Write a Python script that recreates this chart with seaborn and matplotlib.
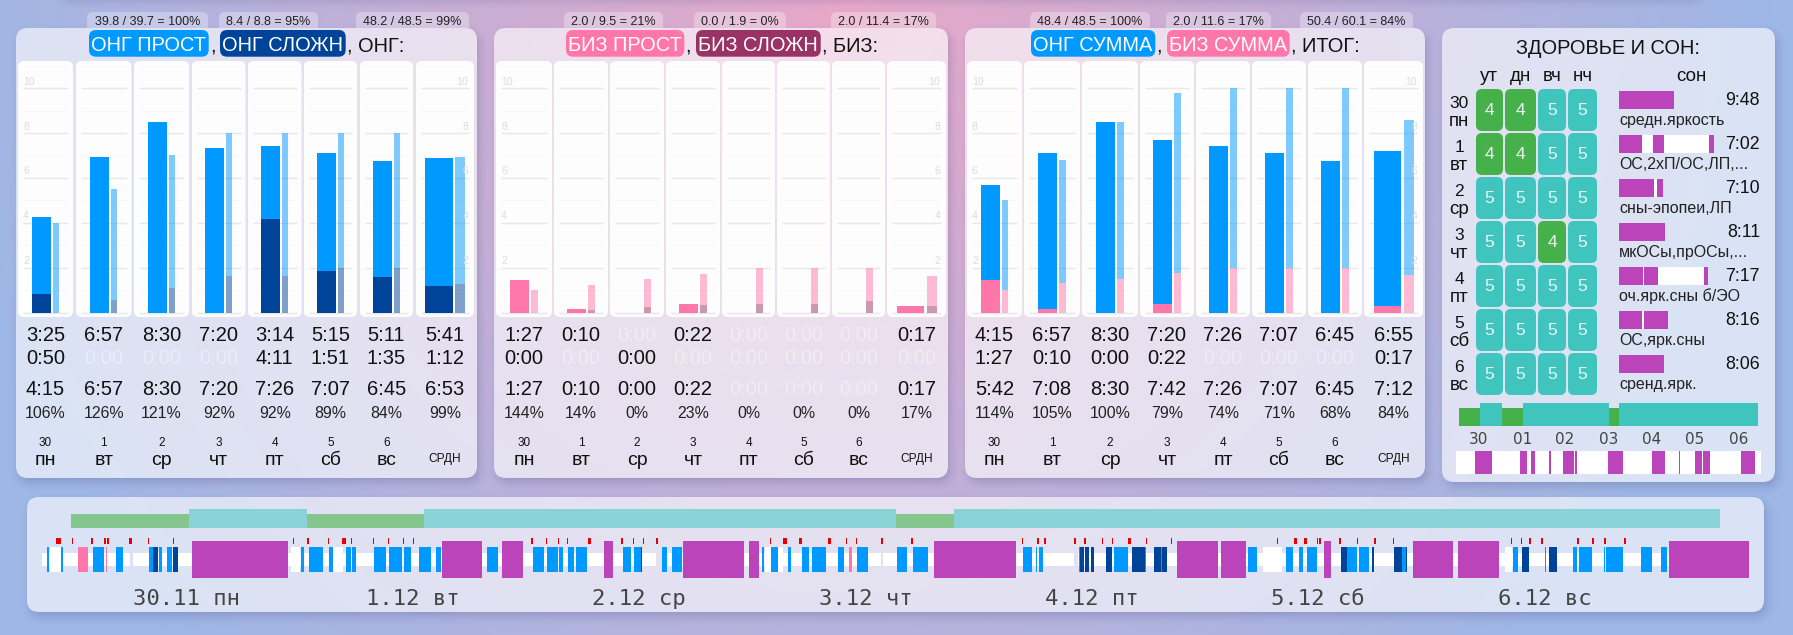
import numpy as np
import matplotlib
matplotlib.use('Agg')
import matplotlib.pyplot as plt
from matplotlib.patches import FancyBboxPatch, Rectangle
import seaborn as sns

## day labels
DAY_NUMS = ['30', '1', '2', '3', '4', '5', '6', '']
DAY_NAMES = ['пн', 'вт', 'ср', 'чт', 'пт', 'сб', 'вс', 'СРДН']

## first panel
ONG_SIMPLE = ['3:25', '6:57', '8:30', '7:20', '3:14', '5:15', '5:11', '5:41']
ONG_COMPLEX = ['0:50', '0:00', '0:00', '0:00', '4:11', '1:51', '1:35', '1:12']
ONG_TOTAL = ['4:15', '6:57', '8:30', '7:20', '7:26', '7:07', '6:45', '6:53']
ONG_PCT = ['106%', '126%', '121%', '92%', '92%', '89%', '84%', '99%']
ONG_PLAN_TOTAL = [3.99, 5.5, 7.02, 8.0, 8.0, 8.0, 8.0, 6.93]
ONG_PLAN_LOW = [0.0, 0.56, 1.1, 1.63, 1.63, 2.0, 2.0, 1.28]
ONG_PILLS = ['39.8 / 39.7 = 100%', '8.4 / 8.8 = 95%', '48.2 / 48.5 = 99%']

## second panel
BIZ_SIMPLE = ['1:27', '0:10', '0:00', '0:22', '0:00', '0:00', '0:00', '0:17']
BIZ_COMPLEX = ['0:00', '0:00', '0:00', '0:00', '0:00', '0:00', '0:00', '0:00']
BIZ_TOTAL = ['1:27', '0:10', '0:00', '0:22', '0:00', '0:00', '0:00', '0:17']
BIZ_PCT = ['144%', '14%', '0%', '23%', '0%', '0%', '0%', '17%']
BIZ_PLAN_TOTAL = [1.01, 1.23, 1.5, 1.72, 2.0, 2.0, 2.0, 1.63]
BIZ_PLAN_LOW = [0.0, 0.12, 0.25, 0.34, 0.39, 0.39, 0.52, 0.3]
BIZ_PILLS = ['2.0 / 9.5 = 21%', '0.0 / 1.9 = 0%', '2.0 / 11.4 = 17%']

## third panel
SUM_ONG = ['4:15', '6:57', '8:30', '7:20', '7:26', '7:07', '6:45', '6:55']
SUM_BIZ = ['1:27', '0:10', '0:00', '0:22', '0:00', '0:00', '0:00', '0:17']
SUM_TOTAL = ['5:42', '7:08', '8:30', '7:42', '7:26', '7:07', '6:45', '7:12']
SUM_PCT = ['114%', '105%', '100%', '79%', '74%', '71%', '68%', '84%']
SUM_PLAN_TOTAL = [5.01, 6.8, 8.49, 9.78, 10.0, 10.0, 10.0, 8.58]
SUM_PLAN_LOW = [1.01, 1.32, 1.5, 1.77, 2.0, 2.0, 2.0, 1.68]
SUM_PILLS = ['48.4 / 48.5 = 100%', '2.0 / 11.6 = 17%', '50.4 / 60.1 = 84%']

## health table
HEALTH_COLS = ['ут', 'дн', 'вч', 'нч']
HEALTH_SCORES = [[4, 4, 5, 5], [4, 4, 5, 5], [5, 5, 5, 5], [5, 5, 4, 5],
                 [5, 5, 5, 5], [5, 5, 5, 5], [5, 5, 5, 5]]
SLEEP_TIMES = ['9:48', '7:02', '7:10', '8:11', '7:17', '8:16', '8:06']
SLEEP_NOTES = ['средн.яркость', 'ОС,2хП/ОС,ЛП,...', 'сны-эпопеи,ЛП', 'мкОСы,прОСы,...',
               'оч.ярк.сны б/ЭО', 'ОС,ярк.сны', 'сренд.ярк.']
SLEEP_ROWS = [[(0, 9.8)],
              [(0, 4.09), (6.05, 8.01), (16.01, 16.9)],
              [(0, 6.23), (6.76, 7.83)],
              [(0, 8.19)],
              [(0, 4.27), (4.45, 6.94), (15.14, 15.85)],
              [(0, 4.09), (4.45, 8.72)],
              [(0, 8.01)]]
STRIP_DAYS = ['30', '01', '02', '03', '04', '05', '06']

## timeline, hours from 30.11 00:00
TIMELINE_DAYS = ['30.11 пн', '1.12 вт', '2.12 ср', '3.12 чт', '4.12 пт', '5.12 сб', '6.12 вс']
HEALTH_SPANS = [(-0.27, 12.28, 4), (12.28, 24.78, 5), (24.78, 37.19, 4),
                (37.19, 87.25, 5), (87.25, 93.38, 4), (93.38, 174.6, 5)]
SLEEP_SPANS = [(12.56, 22.74), (39.10, 43.32), (45.47, 47.70), (56.26, 57.24), (64.65, 71.10),
               (71.63, 72.72), (91.27, 99.95), (117.03, 121.39), (121.71, 124.37),
               (132.60, 133.38), (142.07, 146.35), (146.84, 151.21), (169.23, 177.72)]
ONG_SIMPLE_SPANS = [(-2.78, -2.58), (-1.32, -1.12), (2.09, 3.26), (4.52, 5.29), (8.01, 8.42),
                    (9.07, 9.39), (9.92, 10.45), (24.12, 24.49), (24.98, 26.48), (27.13, 27.53),
                    (28.95, 29.44), (29.56, 29.97), (31.87, 33.13), (33.46, 34.88), (35.08, 35.81),
                    (36.66, 37.92), (38.45, 38.98), (43.84, 45.06), (48.71, 49.24), (49.32, 49.93),
                    (50.22, 51.43), (51.51, 51.96), (52.45, 53.10), (53.26, 54.48), (58.27, 59.13),
                    (59.45, 60.18), (62.41, 62.94), (63.47, 64.52), (73.01, 73.25), (74.02, 74.71),
                    (75.77, 76.09), (77.27, 78.00), (78.32, 79.82), (81.08, 81.73), (83.11, 84.25),
                    (87.33, 88.39), (89.04, 90.66), (100.68, 101.66), (102.10, 102.22),
                    (102.39, 102.83), (106.65, 106.77), (110.34, 111.84), (113.59, 113.79),
                    (115.33, 115.45), (124.53, 125.51), (128.61, 129.34), (129.95, 130.40),
                    (130.81, 131.87), (135.05, 136.07), (136.32, 137.38), (140.84, 141.33),
                    (152.67, 153.20), (156.02, 156.18), (159.04, 159.44), (159.69, 161.03),
                    (162.26, 162.38), (162.50, 164.34), (166.26, 167.40), (168.38, 168.99)]
ONG_COMPLEX_SPANS = [(8.42, 8.99), (10.61, 11.10), (60.18, 60.30), (106.77, 107.13), (107.30, 107.70),
                     (107.90, 108.19), (109.49, 110.14), (112.25, 113.59), (114.60, 115.33),
                     (115.45, 115.98), (134.44, 135.05), (137.70, 137.87), (140.03, 140.84),
                     (141.33, 141.42), (153.61, 154.39), (156.51, 157.32)]
BIZ_SPANS = [(0.50, 1.56), (3.51, 3.56), (82.26, 82.58)]
MARK_SPANS = [(-1.81, -1.65), (-1.60, -1.32), (-0.14, -0.02), (1.89, 2.05), (3.26, 3.43), (3.55, 3.79),
              (5.90, 6.23), (7.93, 8.01), (10.57, 10.65), (23.27, 23.39), (24.77, 24.98), (27.00, 27.13),
              (28.46, 28.91), (29.44, 29.56), (31.79, 31.87), (33.38, 33.46), (34.92, 35.04),
              (36.01, 36.13), (48.51, 48.76), (50.14, 50.22), (51.39, 51.51), (52.33, 52.45),
              (54.56, 54.88), (58.07, 58.27), (59.33, 59.45), (60.38, 60.51), (61.76, 62.01),
              (73.82, 73.98), (75.24, 75.68), (76.94, 77.23), (80.03, 80.35), (81.93, 82.01),
              (82.99, 83.11), (85.63, 85.87), (88.83, 89.04), (100.60, 100.68), (102.18, 102.39),
              (102.91, 103.12), (106.12, 106.32), (107.17, 107.38), (109.08, 109.20), (110.14, 110.26),
              (111.84, 112.17), (113.75, 113.83), (116.38, 116.51), (126.12, 126.20), (127.63, 127.71),
              (129.42, 129.79), (130.48, 130.81), (131.87, 132.03), (132.07, 132.32), (134.20, 134.44),
              (136.11, 136.19), (137.91, 138.15), (139.95, 140.03), (152.43, 152.55), (153.49, 153.57),
              (154.39, 154.59), (155.61, 155.81), (159.44, 159.65), (161.03, 161.24), (162.34, 162.50),
              (164.46, 164.67)]
TRACK_SPANS = [(-3.35, 5.95), (6.30, 61.80), (62.40, 85.67), (85.90, 106.10), (106.57, 177.72)]
OPEN_SPANS = [(-2.50, -1.36), (23.07, 24.04), (27.53, 28.63), (73.33, 73.98), (74.71, 75.24),
              (126.16, 128.20), (151.86, 152.59)]

## colours
BLUE, NAVY, PINK, PLUM = '#0099FF', '#004499', '#FF77AA', '#993366'
GREEN, TEAL, PURPLE = '#46B04A', '#40C4BE', '#BB44BB'
SOFT_GREEN, SOFT_TEAL = '#85C68E', '#88D3D6'
FADED = (1, 1, 1, 0.38)
INK = '#111111'

W, H = 1793, 635

sns.set_theme(style='white')
plt.rcParams['font.family'] = ['Liberation Sans', 'DejaVu Sans']


def to_hours(stamp):
    h, m = stamp.split(':')
    return int(h) + int(m) / 60


def overlay_axes(x0, y0, x1, y1):
    ax = fig.add_axes([x0 / W, 1 - y1 / H, (x1 - x0) / W, (y1 - y0) / H])
    ax.patch.set_alpha(0)
    return ax


def draw_bar(ax, center, width, low, height, color, alpha=1.0):
    if height <= 0:
        return
    sns.barplot(x=[center], y=[height], bottom=low, orient='x', native_scale=True, width=width,
                color=color, saturation=1, alpha=alpha, errorbar=None, linewidth=0, ax=ax)


def draw_span(ax, span, top, bottom, color):
    start, end = span[0], span[1]
    draw_bar(ax, (start + end) / 2, end - start, top, bottom - top, color)


def box(x0, y0, x1, y1, r, color, alpha=1.0, zorder=2):
    patch = FancyBboxPatch((x0, y0), x1 - x0, y1 - y0, boxstyle=f'round,pad=0,rounding_size={r}',
                           facecolor=color, edgecolor='none', alpha=alpha, zorder=zorder)
    base.add_patch(patch)
    return patch


def label(x, y, text, size, color=INK, ha='center', family=None):
    kw = {'family': family} if family else {}
    base.text(x, y, text, fontsize=size, color=color, ha=ha, va='baseline', zorder=5, **kw)


def rect_sdf(xx, yy, x0, y0, x1, y1, r):
    qx = np.abs(xx - (x0 + x1) / 2) - (x1 - x0) / 2 + r
    qy = np.abs(yy - (y0 + y1) / 2) - (y1 - y0) / 2 + r
    return np.hypot(np.maximum(qx, 0), np.maximum(qy, 0)) + np.minimum(np.maximum(qx, qy), 0) - r


## page background with box shadows
PANEL_BOXES = [(16, 28, 477, 478), (494, 28, 948, 478), (965, 28, 1425, 478),
               (1442, 28, 1775, 482), (27, 497, 1764, 612)]
xx, yy = np.meshgrid(np.arange(W) + 0.5, np.arange(H) + 0.5)
blend = np.clip(1 - np.hypot((xx - 850) / 920, yy / 950), 0, 1)[..., None]
page = np.array([157, 183, 230]) * (1 - blend) + np.array([232, 168, 201]) * blend
for x0, y0, x1, y1 in PANEL_BOXES + [(57, -60, 1700, -4)]:
    shadow = np.clip(1 - (rect_sdf(xx, yy, x0 + 3, y0 + 5, x1 + 3, y1 + 5, 12) + 9) / 20, 0, 1) ** 2 * 0.38
    shadow[rect_sdf(xx, yy, x0, y0, x1, y1, 12) < 0] = 0
    page = page * (1 - shadow[..., None]) + np.array([70, 70, 130]) * shadow[..., None]

fig = plt.figure(figsize=(W / 100, H / 100), dpi=100)
base = fig.add_axes([0, 0, 1, 1])
base.imshow(page.astype(np.uint8), extent=(0, W, H, 0), aspect='auto', interpolation='nearest', zorder=0)
base.set_xlim(0, W)
base.set_ylim(H, 0)
base.set_axis_off()


def draw_panel(left, right, cells, thin, pills_x, pills, title_pills, tail, tail_x, row1, row2, total,
               pct, fade1, fade2, fade3, upper, lower, plan_total, plan_low):
    for (x0, x1), text in zip(pills_x, pills):
        pill = box(x0, 12, x1, 36, 6, 'white', 0.3, 1)
        pill.set_clip_path(Rectangle((x0, 0), x1 - x0, 28, transform=base.transData))
        label((x0 + x1) / 2, 25.3, text, 9, '#222222')
    box(left, 28, right, 478, 12, 'white', 0.62)

    for x0, x1, text, color in title_pills:
        box(x0, 30, x1, 56.7, 7, color, zorder=3)
        label((x0 + x1) / 2, 51, text, 14.4, 'white')
    label(title_pills[0][1] + 1, 51, ',', 14.4, ha='left')
    label(tail_x, 51, tail, 14.4, ha='left')

    ax = overlay_axes(left, 61, right, 317)
    y_min, y_max = -4.3 / 22.45, 251.7 / 22.45
    for i, (x0, x1) in enumerate(cells):
        box(x0, 61, x1, 317, 6, 'white', 0.97, 3)
        mid = (x0 + x1) / 2
        ax.hlines([1, 3, 5, 7, 9, 11], x0 + 5, x1 - 5, color='#F8F8F8', linewidth=0.8, zorder=0)
        ax.hlines([0, 2, 4, 6, 8, 10], x0 + 5, x1 - 5, color='#E8E8E8', linewidth=1.0, zorder=0)

        wide, narrow, gap = (27.5, 10, 2.5) if i == 7 else (19, thin, 2)
        x_main = mid - (wide + gap + narrow) / 2 + wide / 2
        x_plan = mid + (wide + gap + narrow) / 2 - narrow / 2
        low = to_hours(row2[i])
        draw_bar(ax, x_main, wide, low, to_hours(total[i]) - low, upper)
        draw_bar(ax, x_main, wide, 0, low, lower)
        draw_bar(ax, x_plan, narrow, plan_low[i], plan_total[i] - plan_low[i], upper, 0.5)
        draw_bar(ax, x_plan, narrow, 0, plan_low[i], lower, 0.5)

        label(mid, 341.3, row1[i], 14.5, FADED if i in fade1 else INK)
        label(mid, 364, row2[i], 14.5, FADED if i in fade2 else INK)
        label(mid, 395.3, total[i], 14.5, FADED if i in fade3 else INK)
        label(mid, 418.3, pct[i], 11.4, '#222222')
        if DAY_NUMS[i]:
            label(mid, 446, DAY_NUMS[i], 8.5)
            label(mid, 465, DAY_NAMES[i], 14)
        else:
            label(mid, 462.3, DAY_NAMES[i], 8.6)

    for hour in [2, 4, 6, 8, 10]:
        ax.text(cells[0][0] + 5, hour + 0.07, str(hour), fontsize=7.5, color='#DDDDDD', ha='left', va='bottom')
        ax.text(cells[7][1] - 6, hour + 0.07, str(hour), fontsize=7.5, color='#DDDDDD', ha='right', va='bottom')
    ax.set_xlim(left, right)
    ax.set_ylim(y_min, y_max)
    ax.set_axis_off()


draw_panel(16, 477,
           [(18, 73), (76, 131.5), (134, 189), (192, 245.5), (248, 301.5), (304, 357), (360, 413), (416, 474)],
           6, [(87, 208), (219, 318), (356, 469)], ONG_PILLS,
           [(89, 208.7, 'ОНГ ПРОСТ', BLUE), (220, 345.7, 'ОНГ СЛОЖН', NAVY)], ', ОНГ:', 347,
           ONG_SIMPLE, ONG_COMPLEX, ONG_TOTAL, ONG_PCT, [], [1, 2, 3], [],
           BLUE, NAVY, ONG_PLAN_TOTAL, ONG_PLAN_LOW)
draw_panel(494, 948,
           [(496, 552), (554, 608), (610, 664), (666, 720), (722, 775), (777, 830), (832, 885), (887, 946)],
           7, [(564, 663), (694, 785.7), (831, 936)], BIZ_PILLS,
           [(566, 684.3, 'БИЗ ПРОСТ', PINK), (696, 820.7, 'БИЗ СЛОЖН', PLUM)], ', БИЗ:', 822,
           BIZ_SIMPLE, BIZ_COMPLEX, BIZ_TOTAL, BIZ_PCT, [2, 4, 5, 6], [1, 3, 4, 5, 6, 7], [4, 5, 6],
           PINK, PLUM, BIZ_PLAN_TOTAL, BIZ_PLAN_LOW)
draw_panel(965, 1425,
           [(967, 1022), (1024, 1080), (1082, 1138), (1140, 1194), (1196, 1250), (1252, 1306), (1308, 1362), (1364, 1423)],
           6.5, [(1030, 1150), (1166, 1271), (1300, 1413)], SUM_PILLS,
           [(1031, 1155.3, 'ОНГ СУММА', BLUE), (1167, 1289.7, 'БИЗ СУММА', PINK)], ', ИТОГ:', 1291,
           SUM_ONG, SUM_BIZ, SUM_TOTAL, SUM_PCT, [], [4, 5, 6], [],
           BLUE, PINK, SUM_PLAN_TOTAL, SUM_PLAN_LOW)

## health and sleep panel
box(1442, 28, 1775, 482, 12, 'white', 0.62)
label(1607.7, 54, 'ЗДОРОВЬЕ И СОН:', 14.4)
col_edges = [(1476, 1503), (1505, 1536), (1538, 1566), (1568, 1597)]
for (x0, x1), name in zip(col_edges, HEALTH_COLS):
    label((x0 + x1) / 2, 81, name, 13.5)
label(1691.7, 81, 'сон', 13.5)

rows_ax = overlay_axes(1619, 85, 1770, 400)
px_per_hour = 5.62
for r, scores in enumerate(HEALTH_SCORES):
    top = 89 + 44 * r
    label(1459.3, top + 19.3, DAY_NUMS[r], 12.5)
    label(1459.3, top + 36.7, DAY_NAMES[r], 13.5)
    for (x0, x1), score in zip(col_edges, scores):
        box(x0, top, x1, top + 42, 6, GREEN if score == 4 else TEAL, zorder=3)
        label((x0 + x1) / 2, top + 26, str(score), 12.5, '#E9F6F2')
    draw_span(rows_ax, (0, SLEEP_ROWS[r][-1][1]), top + 2, top + 20, 'white')
    for span in SLEEP_ROWS[r]:
        draw_span(rows_ax, span, top + 2, top + 20, PURPLE)
    label(1760, top + 16, SLEEP_TIMES[r], 12.8, ha='right')
    label(1619, top + 36.3, SLEEP_NOTES[r], 11.5, '#222222', ha='left')
rows_ax.set_xlim(0, 151 / px_per_hour)
rows_ax.set_ylim(400, 85)
rows_ax.set_axis_off()

health_ax = overlay_axes(1459, 400, 1758, 430)
for span in HEALTH_SPANS:
    if span[2] == 4:
        draw_span(health_ax, span, 408, 426, GREEN)
    else:
        draw_span(health_ax, span, 403, 426, TEAL)
health_ax.set_xlim(HEALTH_SPANS[0][0], HEALTH_SPANS[-1][1])
health_ax.set_ylim(430, 400)
health_ax.set_axis_off()

for x, day in zip([1479, 1522.3, 1565, 1608.3, 1651.7, 1695, 1738.7], STRIP_DAYS):
    label(x, 443.7, day, 11, '#444444', family='DejaVu Sans')

strip_ax = overlay_axes(1456, 451, 1761, 474)
strip_start, strip_end = 1.35, 181.2
draw_span(strip_ax, (strip_start, strip_end), 0, 1, 'white')
for span in SLEEP_SPANS:
    draw_span(strip_ax, span, 0, 1, PURPLE)
strip_ax.set_xlim(strip_start, strip_end)
strip_ax.set_ylim(0, 1)
strip_ax.set_axis_off()

## timeline
box(27, 497, 1764, 612, 12, 'white', 0.62)
px_hour, px_zero = 9.43, 73.4
time_ax = overlay_axes(27, 497, 1764, 612)
for span in HEALTH_SPANS:
    if span[2] == 4:
        draw_span(time_ax, span, 514, 528, SOFT_GREEN)
    else:
        draw_span(time_ax, span, 509, 528, SOFT_TEAL)
for span in TRACK_SPANS:
    draw_span(time_ax, span, 553.3, 566, 'white')
for span in OPEN_SPANS:
    draw_span(time_ax, span, 547, 572, 'white')
for span in ONG_SIMPLE_SPANS:
    draw_span(time_ax, span, 547, 572, BLUE)
for span in ONG_COMPLEX_SPANS:
    draw_span(time_ax, span, 547, 572, NAVY)
for span in BIZ_SPANS:
    draw_span(time_ax, span, 547, 572, PINK)
for span in SLEEP_SPANS:
    draw_span(time_ax, span, 541, 578, PURPLE)
for span in MARK_SPANS:
    draw_span(time_ax, span, 538, 544, '#E60000')
time_ax.set_xlim((27 - px_zero) / px_hour, (1764 - px_zero) / px_hour)
time_ax.set_ylim(612, 497)
time_ax.set_axis_off()

for i, day in enumerate(TIMELINE_DAYS):
    label(px_zero + (12 + 24 * i) * px_hour, 605, day, 16, '#444444', family='DejaVu Sans Mono')

plt.savefig('out.png', dpi=100)
